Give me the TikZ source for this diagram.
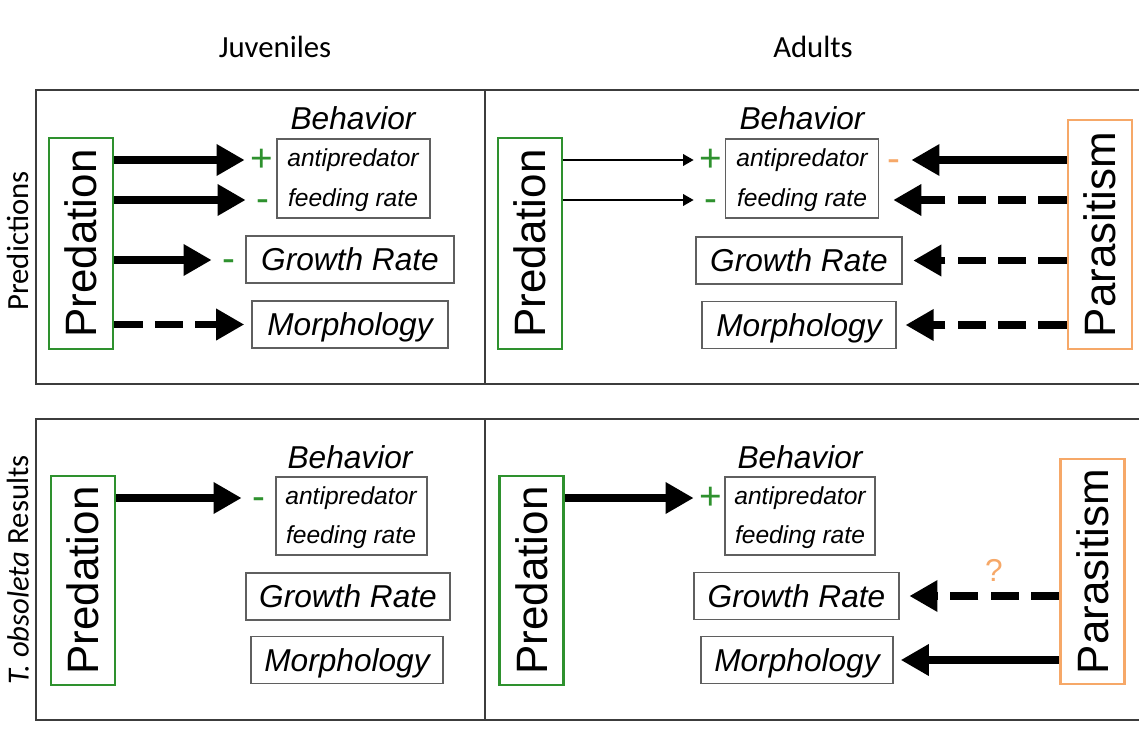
\documentclass[tikz,border=0pt]{standalone}
\usepackage{fontspec}
\setmainfont{Liberation Sans}
\newfontfamily\califont{Carlito}
\usetikzlibrary{arrows.meta}
\pgfdeclarelayer{bg}
\pgfsetlayers{bg,main}
\definecolor{predgreen}{RGB}{46,145,46}
\definecolor{parorange}{RGB}{246,168,104}
\definecolor{boxgray}{RGB}{95,95,95}
\definecolor{panelgray}{RGB}{60,60,60}
\tikzset{
  hdr/.style={font=\califont\fontsize{17.5}{21}\selectfont, inner sep=0pt},
  force/.style={draw, line width=1.6pt, rotate=90, minimum width=4.22cm, minimum height=1.28cm, inner sep=0pt, font=\fontsize{25}{30}\selectfont},
  resp/.style={draw=boxgray, line width=0.8pt, minimum height=0.94cm, inner sep=0pt, text depth=0pt, font=\itshape\fontsize{18}{22}\selectfont},
  behbox/.style={draw=boxgray, line width=0.8pt, minimum width=3.06cm, minimum height=1.58cm, inner sep=0pt},
  beh/.style={inner sep=0pt, font=\itshape\fontsize{14}{17}\selectfont},
  behlbl/.style={inner sep=0pt, font=\itshape\fontsize{18}{22}\selectfont},
  sgn/.style={inner sep=0pt, minimum width=0.68cm, text height=13.5pt, text depth=0pt, font=\fontsize{22}{26}\selectfont},
  bigarr/.style={line width=4.5pt, -{Triangle[length=16pt,width=17pt]}},
  dasharr/.style={bigarr, dash pattern=on 16pt off 7pt},
  thinarr/.style={line width=1.2pt, -{Triangle[length=6pt,width=6.5pt]}}
}
\begin{document}
\begin{tikzpicture}
        \useasboundingbox (0cm, 0cm) rectangle (22.780000cm, -14.840000cm);
        % panels
        \draw [panelgray, line width=1pt] (0.720000cm, -1.800000cm) rectangle (23.000000cm, -7.680000cm);
        \draw [panelgray, line width=1pt] (9.700000cm, -1.800000cm) -- (9.700000cm, -7.680000cm);
        \draw [panelgray, line width=1pt] (0.720000cm, -8.380000cm) rectangle (23.000000cm, -14.400000cm);
        \draw [panelgray, line width=1pt] (9.700000cm, -8.380000cm) -- (9.700000cm, -14.400000cm);
        \node (tj) [hdr] at (5.500000cm, -0.940000cm) {Juveniles};
        \node (ta) [hdr] at (16.260000cm, -0.940000cm) {Adults};
        \node (rp) [hdr, rotate=90] at (0.360000cm, -4.820000cm) {Predictions};
        \node (rr) [hdr, rotate=90] at (0.360000cm, -11.400000cm) {{\itshape T. obsoleta} Results};
        % predictions, juveniles
        \node (pj) [force, predgreen] at (1.620000cm, -4.870000cm) {\color{black}Predation};
        \node (jl) [behlbl] at (7.060000cm, -2.360000cm) {Behavior};
        \node (jb) [behbox] at (7.070000cm, -3.570000cm) {};
        \node (ja) [beh] at (7.060000cm, -3.200000cm) {antipredator};
        \node (jf) [beh] at (7.060000cm, -4.000000cm) {feeding rate};
        \node (jg) [resp, minimum width=4.160000cm] at (7.000000cm, -5.190000cm) {Growth Rate};
        \node (jm) [resp, minimum width=3.920000cm] at (7.000000cm, -6.490000cm) {Morphology};
        \node (s1) [sgn, predgreen] at (5.240000cm, -3.200000cm) {+};
        \node (s2) [sgn, predgreen] at (5.260000cm, -4.000000cm) {-};
        \node (s3) [sgn, predgreen] at (4.580000cm, -5.200000cm) {-};
        % predictions, adults
        \node (pa) [force, predgreen] at (10.600000cm, -4.870000cm) {\color{black}Predation};
        \node (al) [behlbl] at (16.040000cm, -2.360000cm) {Behavior};
        \node (ab) [behbox] at (16.040000cm, -3.570000cm) {};
        \node (aa) [beh] at (16.040000cm, -3.200000cm) {antipredator};
        \node (af) [beh] at (16.040000cm, -4.000000cm) {feeding rate};
        \node (ag) [resp, minimum width=4.120000cm] at (15.980000cm, -5.210000cm) {Growth Rate};
        \node (am) [resp, minimum width=3.880000cm] at (15.980000cm, -6.500000cm) {Morphology};
        \node (s4) [sgn, predgreen] at (14.220000cm, -3.200000cm) {+};
        \node (s5) [sgn, predgreen] at (14.220000cm, -4.000000cm) {-};
        \node (s6) [sgn, parorange] at (17.880000cm, -3.200000cm) {-};
        \node (qa) [force, parorange, minimum width=4.580000cm] at (22.000000cm, -4.690000cm) {\color{black}Parasitism};
        % results, juveniles
        \node (pr) [force, predgreen, minimum width=4.180000cm] at (1.660000cm, -11.610000cm) {\color{black}Predation};
        \node (rl) [behlbl] at (7.000000cm, -9.140000cm) {Behavior};
        \node (rb) [behbox, minimum width=3.020000cm, minimum height=1.560000cm] at (7.030000cm, -10.320000cm) {};
        \node (ra) [beh] at (7.020000cm, -9.960000cm) {antipredator};
        \node (rf) [beh] at (7.020000cm, -10.740000cm) {feeding rate};
        \node (rg) [resp, minimum width=4.080000cm] at (6.960000cm, -11.930000cm) {Growth Rate};
        \node (rm) [resp, minimum width=3.840000cm] at (6.940000cm, -13.200000cm) {Morphology};
        \node (s7) [sgn, predgreen] at (5.180000cm, -9.960000cm) {-};
        % results, adults
        \node (pb) [force, predgreen, minimum width=4.180000cm] at (10.630000cm, -11.610000cm) {\color{black}Predation};
        \node (bl) [behlbl] at (16.000000cm, -9.140000cm) {Behavior};
        \node (bb) [behbox, minimum width=3.000000cm, minimum height=1.560000cm] at (16.000000cm, -10.320000cm) {};
        \node (ba) [beh] at (16.000000cm, -9.960000cm) {antipredator};
        \node (bf) [beh] at (16.000000cm, -10.740000cm) {feeding rate};
        \node (bg) [resp, minimum width=4.100000cm] at (15.930000cm, -11.920000cm) {Growth Rate};
        \node (bm) [resp, minimum width=3.840000cm] at (15.940000cm, -13.200000cm) {Morphology};
        \node (s8) [sgn, predgreen] at (14.220000cm, -9.960000cm) {+};
        \node (qb) [force, parorange, minimum width=4.500000cm] at (21.850000cm, -11.430000cm) {\color{black}Parasitism};
        \node (qm) [parorange, inner sep=0pt, font=\fontsize{18}{22}\selectfont] at (19.880000cm, -11.400000cm) {?};
        \begin{pgfonlayer}{bg}
                \draw (pj.south |- s1) edge [bigarr] (s1.west);
                \draw (pj.south |- s2) edge [bigarr] (s2.west);
                \draw (pj.south |- s3) edge [bigarr] (s3.west);
                \draw (pj.south |- jm) edge [dasharr, shorten >=4pt] (jm.west);
                \draw (pa.south |- s4) edge [thinarr] (s4.west);
                \draw (pa.south |- s5) edge [thinarr] (s5.west);
                \draw (qa.north |- s6) edge [bigarr] (s6.east);
                \draw (qa.north |- af) edge [dasharr, shorten >=8pt] (ab.east |- af);
                \draw (qa.north |- ag) edge [dasharr, shorten >=6pt] (ag.east);
                \draw (qa.north |- am) edge [dasharr, shorten >=5pt] (am.east);
                \draw (pr.south |- s7) edge [bigarr] (s7.west);
                \draw (pb.south |- s8) edge [bigarr] (s8.west);
                \draw (qb.north |- bg) edge [dasharr, shorten >=5.5pt] (bg.east);
                \draw (qb.north |- bm) edge [bigarr, shorten >=4pt] (bm.east);
        \end{pgfonlayer}
\end{tikzpicture}
\end{document}
